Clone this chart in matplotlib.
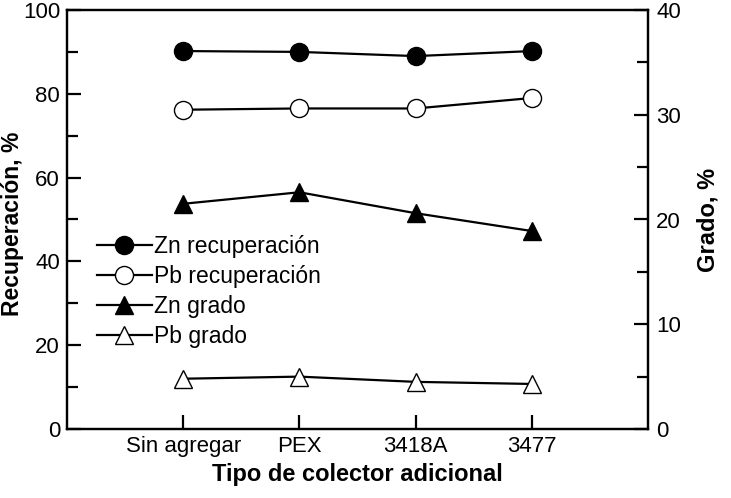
import matplotlib
matplotlib.use("Agg")
import matplotlib.pyplot as plt
from matplotlib.ticker import MultipleLocator

plt.rcParams['font.family'] = ['Liberation Sans', 'DejaVu Sans']

categories = ["Sin agregar", "PEX", "3418A", "3477"]
zn_rec = [90.2, 90.0, 89.0, 90.2]
pb_rec = [76.2, 76.5, 76.5, 79.0]
zn_grado = [21.5, 22.6, 20.6, 18.9]
pb_grado = [4.8, 5.0, 4.5, 4.3]

x = list(range(1, len(categories) + 1))

fig = plt.figure(figsize=(7.31, 4.98), dpi=100)
ax = fig.add_axes([67/731, 1-429/498, (648-67)/731, (429-10)/498])
ax2 = ax.twinx()

ms = 13
lw = 1.6
h1, = ax.plot(x, zn_rec, '-o', color='black', mfc='black', mec='black', ms=ms, lw=lw, label='Zn recuperación')
h2, = ax.plot(x, pb_rec, '-o', color='black', mfc='white', mec='black', ms=ms, lw=lw, label='Pb recuperación')
h3, = ax2.plot(x, zn_grado, '-^', color='black', mfc='black', mec='black', ms=ms, lw=lw, label='Zn grado')
h4, = ax2.plot(x, pb_grado, '-^', color='black', mfc='white', mec='black', ms=ms, lw=lw, label='Pb grado')

ax.set_xlim(0, 5)
ax.set_ylim(0, 100)
ax2.set_ylim(0, 40)
ax.set_xticks(x)
ax.set_xticklabels(categories)
ax.yaxis.set_major_locator(MultipleLocator(20))
ax.yaxis.set_minor_locator(MultipleLocator(10))
ax2.yaxis.set_major_locator(MultipleLocator(10))
ax2.yaxis.set_minor_locator(MultipleLocator(5))

for a in (ax, ax2):
    for s in a.spines.values():
        s.set_linewidth(1.6)
ax.tick_params(axis='both', which='major', direction='in', length=10, width=1.6, labelsize=16, pad=5)
ax.tick_params(axis='y', which='minor', direction='in', length=8, width=1.6)
ax2.tick_params(axis='y', which='major', direction='in', length=10, width=1.6, labelsize=16, pad=6)
ax2.tick_params(axis='y', which='minor', direction='in', length=8, width=1.6)

ax.set_xlabel('Tipo de colector adicional', fontsize=17, fontweight='bold', labelpad=4)
ax.set_ylabel('Recuperación, %', fontsize=16.5, fontweight='bold')
ax.yaxis.set_label_coords(-0.074, 0.49)
ax2.set_ylabel('Grado, %', fontsize=17, fontweight='bold', labelpad=11)

leg = ax.legend(handles=[h1, h2, h3, h4], loc='upper left', bbox_to_anchor=(0.035, 0.485),
                frameon=False, fontsize=16.5, handlelength=2.4, handletextpad=0.1,
                labelspacing=0.3, borderaxespad=0)
ax.set_zorder(ax2.get_zorder() + 1)
ax.patch.set_visible(False)

fig.savefig('out.png', dpi=100)
